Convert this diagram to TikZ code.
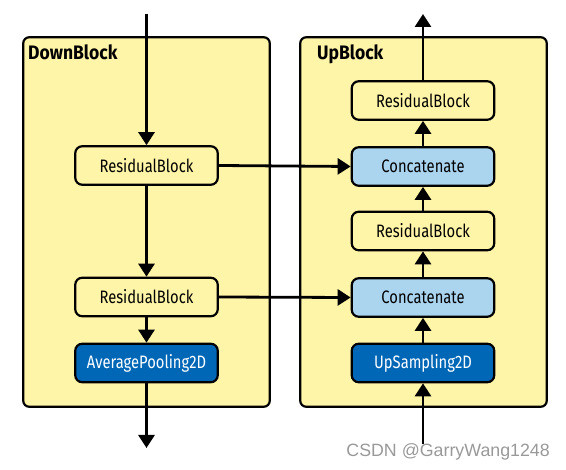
\documentclass[tikz,border=0pt]{standalone}
\usepackage{fontspec}
\setmainfont[FakeStretch=0.82]{Fira Sans}
\newfontfamily\labelfont[FakeStretch=0.9]{Fira Sans}
\newfontfamily\markfont{Liberation Sans}
\usetikzlibrary{arrows.meta, calc}

\definecolor{blockyellow}{HTML}{FFF5A8}
\definecolor{concatblue}{HTML}{ABD4EF}
\definecolor{sampleblue}{HTML}{0067B7}

\begin{document}
\begin{tikzpicture}[x=1pt, y=-1pt]
 \tikzstyle{container}=[rectangle, draw, line width=2.2pt, rounded corners=6pt, fill=blockyellow, minimum width=246.5pt, minimum height=369.5pt]
 \tikzstyle{blocklabel}=[anchor=base west, inner sep=0pt, font=\labelfont\bfseries\fontsize{19.5}{22}\selectfont]
 \tikzstyle{layer}=[rectangle, draw, line width=2.2pt, rounded corners=7pt, fill=blockyellow, minimum width=142.5pt, minimum height=38.5pt, font=\fontsize{18}{20}\selectfont]
 \tikzstyle{concatlayer}=[layer, fill=concatblue]
 \tikzstyle{samplelayer}=[layer, fill=sampleblue, text=white]
 \tikzstyle{arr}=[-{Triangle[length=13pt, width=16pt]}, line width=2.8pt]

 \useasboundingbox (0,0) rectangle (566,470);

 % Containers
 \node (ndown) at (146.5,222) [container] {};
 \node (nup) at (423.5,222) [container] {};
 \node (ndownlabel) at (28,60) [blocklabel] {DownBlock};
 \node (nuplabel) at (317,60) [blocklabel] {UpBlock};

 % Down layers
 \node (nresdownone) at (146.5,165.5) [layer] {ResidualBlock};
 \node (nresdowntwo) at (146.5,297) [layer] {ResidualBlock};
 \node (npool) at (146.5,363) [samplelayer] {AveragePooling2D};

 % Up layers
 \node (nresupone) at (423,100.5) [layer] {ResidualBlock};
 \node (nconcatone) at (423,166.5) [concatlayer] {Concatenate};
 \node (nresuptwo) at (423,231) [layer] {ResidualBlock};
 \node (nconcattwo) at (423,297.5) [concatlayer] {Concatenate};
 \node (nupsample) at (423,363) [samplelayer] {UpSampling2D};

 \coordinate (ndownin) at (146.5,14);
 \coordinate (ndownout) at (146.5,448);
 \coordinate (nupin) at (423,444);
 \coordinate (nupout) at (423,14);

 % Down path
 \draw [arr] (ndownin) -- (nresdownone.north);
 \draw [arr] (nresdownone.south) -- (nresdowntwo.north);
 \draw [arr] (nresdowntwo.south) -- (npool.north);
 \draw [arr] (npool.south) -- (ndownout);

 % Up path
 \draw [arr] (nupin) -- (nupsample.south);
 \draw [arr] (nupsample.north) -- (nconcattwo.south);
 \draw [arr] (nconcattwo.north) -- (nresuptwo.south);
 \draw [arr] (nresuptwo.north) -- (nconcatone.south);
 \draw [arr] (nconcatone.north) -- (nresupone.south);
 \draw [arr] (nresupone.north) -- (nupout);

 % Skip connections
 \draw [arr] (nresdownone.east) -- (nconcatone.west);
 \draw [arr] (nresdowntwo.east) -- (nconcattwo.west);

 \node (nwatermark) at (550,457) [anchor=base east, inner sep=0pt, text=black!40, font=\markfont\fontsize{17.8}{20}\selectfont] {CSDN @GarryWang1248};

\end{tikzpicture}
\end{document}
